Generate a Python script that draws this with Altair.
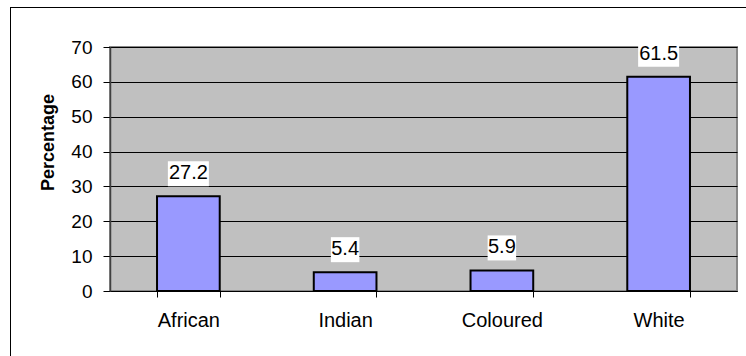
import altair as alt
import pandas as pd

# Share of each population group (%)
categories = ["African", "Indian", "Coloured", "White"]
values = [27.2, 5.4, 5.9, 61.5]

df = pd.DataFrame({"group": categories, "value": values})

FONT = "Liberation Sans"

x_scale = alt.Scale(paddingInner=0.6, paddingOuter=0.3)
y_scale = alt.Scale(domain=[0, 70], nice=False)

x_axis = alt.Axis(
    title=None,
    labelAngle=0,
    labelFontSize=20,
    labelPadding=13,
    tickBand="extent",
    tickSize=6,
    tickColor="black",
    domainColor="black",
    labelColor="black",
    grid=False,
)

y_axis = alt.Axis(
    title="Percentage",
    values=list(range(0, 71, 10)),
    labelOverlap=False,
    grid=True,
    gridColor="black",
    gridWidth=1,
    tickSize=7,
    tickColor="black",
    domainColor="#404040",
    domainWidth=1.5,
    labelFontSize=19,
    labelPadding=11,
    labelColor="black",
    titleFontSize=18,
    titleFontWeight="bold",
    titleColor="black",
    titleAngle=270,
    titleAlign="center",
    titleBaseline="middle",
    titleX=-62,
    titleY=95,
)

x_enc = alt.X("group:N", sort=categories, scale=x_scale, axis=x_axis)
y_enc = alt.Y("value:Q", scale=y_scale, axis=y_axis)

base = alt.Chart(df)

bars = base.mark_bar(fill="#9999FF", stroke="black", strokeWidth=2).encode(
    x=x_enc, y=y_enc
)

# White boxes behind the value labels, sized from the label text
boxes = (
    base.transform_calculate(
        boxw="12.5 * length(format(datum.value, '.1f')) - 9"
    )
    .mark_bar(fill="white", yOffset=-35, y2Offset=-10)
    .encode(
        x=x_enc,
        y=y_enc,
        y2=alt.Y2("value:Q"),
        size=alt.Size("boxw:Q", scale=None, legend=None),
    )
)

labels = base.mark_text(
    baseline="middle", align="center", dy=-23, fontSize=20, font=FONT, color="black"
).encode(
    x=x_enc,
    y=y_enc,
    text=alt.Text("value:Q", format=".1f"),
)

# Outer frame lines (top and left edge of the chart area)
frame_top = alt.Chart(alt.Data(values=[{}])).mark_rule(color="black", strokeWidth=1).encode(
    x=alt.value(-100), x2=alt.value(640), y=alt.value(-39.5)
)
frame_left = alt.Chart(alt.Data(values=[{}])).mark_rule(color="black", strokeWidth=1).encode(
    x=alt.value(-99.5), y=alt.value(-40), y2=alt.value(320)
)

chart = (
    alt.layer(bars, boxes, labels, frame_top, frame_left)
    .properties(
        width=627,
        height=244,
        autosize=alt.AutoSizeParams(type="none"),
        padding={"left": 110, "top": 47, "right": 9, "bottom": 65},
        background="white",
    )
    .configure_view(fill="#C0C0C0", stroke="#888888", strokeWidth=2)
    .configure_axis(labelFont=FONT, titleFont=FONT)
    .configure_text(font=FONT)
)

chart.save("out.html", embed_options={"renderer": "svg", "actions": False})
